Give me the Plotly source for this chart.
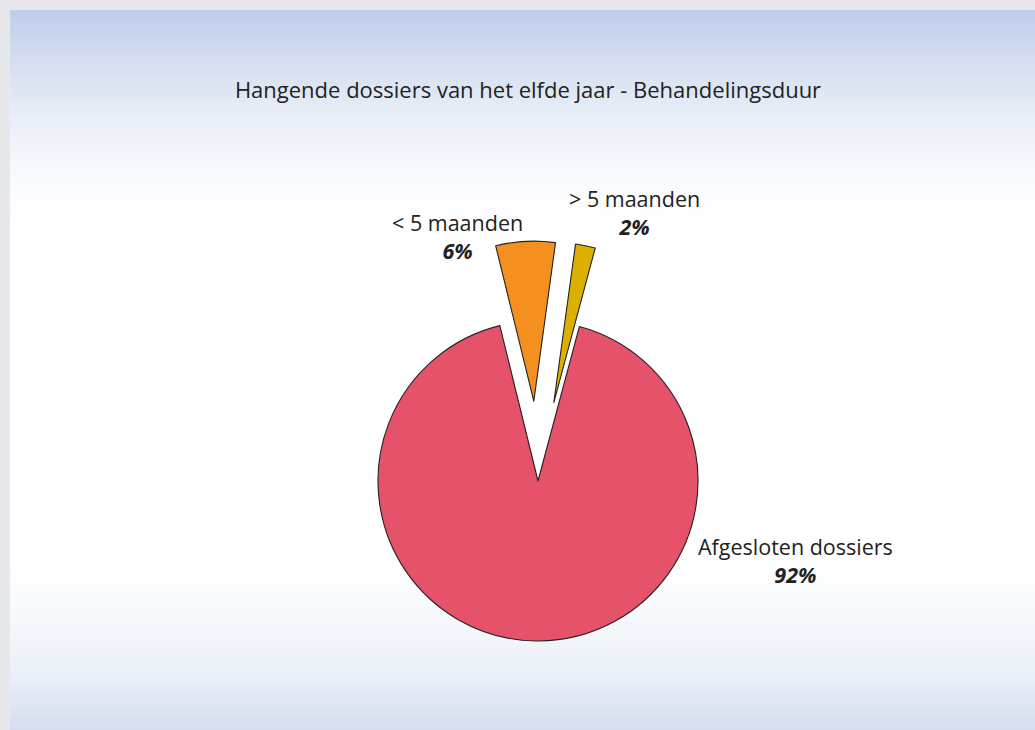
import plotly.graph_objects as go

# ---- data ----
labels = ["Afgesloten dossiers", "< 5 maanden", "> 5 maanden"]
values = [92, 6, 2]
pct_text = ["92%", "6%", "2%"]
colors = ["#e5526a", "#f39020", "#dcb000"]
pulls = [0, 0.5, 0.5]

W, H = 1035, 730

def px_x(x):
    return x / W

def px_y(y):
    return 1 - y / H

fig = go.Figure()

fig.add_trace(go.Pie(
    labels=labels,
    values=values,
    sort=False,
    direction="clockwise",
    rotation=15,
    pull=pulls,
    marker=dict(colors=colors, line=dict(color="#222222", width=1.1)),
    textinfo="none",
    hoverinfo="label+percent",
    showlegend=False,
    domain=dict(x=[px_x(298), px_x(778)], y=[px_y(721), px_y(241)]),
))

# ---- background gradient panel ----
def lerp(c1, c2, t):
    return tuple(round(a + (b - a) * t) for a, b in zip(c1, c2))

stops = [
    (10, (191, 205, 233)),
    (60, (212, 222, 240)),
    (120, (234, 239, 248)),
    (180, (250, 251, 254)),
    (230, (255, 255, 255)),
    (560, (255, 255, 255)),
    (620, (246, 248, 252)),
    (680, (233, 238, 247)),
    (730, (212, 222, 240)),
]

def color_at(y):
    for (y1, c1), (y2, c2) in zip(stops[:-1], stops[1:]):
        if y1 <= y <= y2:
            return lerp(c1, c2, (y - y1) / (y2 - y1))
    return stops[-1][1]

shapes = []
step = 4
y = 10
while y < H:
    c = color_at(y + step / 2)
    shapes.append(dict(
        type="rect", xref="paper", yref="paper", layer="below",
        x0=px_x(10), x1=1.0, y0=px_y(min(y + step + 0.5, H)), y1=px_y(y),
        fillcolor="rgb(%d,%d,%d)" % c, line=dict(width=0),
    ))
    y += step

# ---- labels ----
label_pos = {
    "Afgesloten dossiers": (795, 560),
    "< 5 maanden": (457, 236),
    "> 5 maanden": (634, 213),
}
annotations = []
for lab, pt in zip(labels, pct_text):
    x, yy = label_pos[lab]
    annotations.append(dict(
        x=px_x(x), y=px_y(yy), xref="paper", yref="paper",
        text="%s<br><b><i>%s</i></b>" % (lab, pt),
        showarrow=False, xanchor="center", yanchor="middle",
        font=dict(family="Open Sans", size=21.5, color="#222222"),
    ))

fig.update_layout(
    width=W, height=H,
    margin=dict(l=0, r=0, t=0, b=0),
    paper_bgcolor="#e6e8ec",
    plot_bgcolor="rgba(0,0,0,0)",
    shapes=shapes,
    annotations=annotations,
    title=dict(
        text="Hangende dossiers van het elfde jaar - Behandelingsduur",
        x=528 / W, xanchor="center", y=px_y(90), yanchor="middle",
        font=dict(family="Open Sans", size=22, color="#222222", weight=500),
    ),
)

fig.write_html(
    "out.html",
    config={"displayModeBar": False},
    post_script="document.body.style.margin='0';document.body.style.padding='0';",
)
